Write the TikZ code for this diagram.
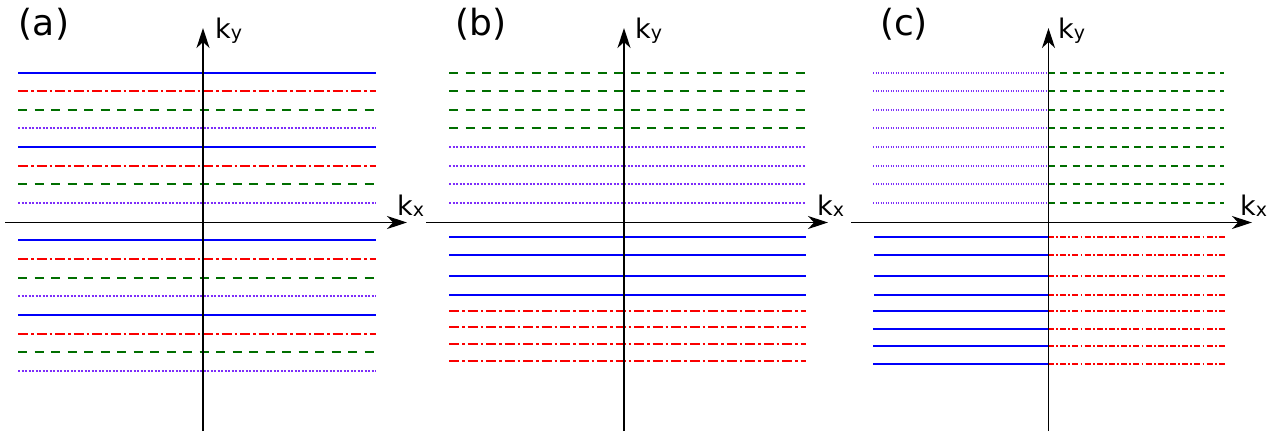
\documentclass[tikz,border=0pt]{standalone}
\usepackage{fontspec}
\setmainfont{DejaVu Sans}
\usetikzlibrary{arrows.meta}
\definecolor{bandblue}{RGB}{0,0,250}
\definecolor{bandred}{RGB}{250,0,0}
\definecolor{bandgreen}{RGB}{0,110,0}
\definecolor{bandpurple}{RGB}{125,45,250}
\tikzset{
  axisline/.style={line width=1.7pt, black, -{Stealth[length=20pt, width=13pt, inset=6pt]}},
  panellabel/.style={font=\fontsize{36}{40}\selectfont, inner sep=0pt},
  axislabel/.style={font=\fontsize{27}{30}\selectfont, anchor=base west, inner sep=0pt},
  bsolid/.style={line width=2.7pt, bandblue},
  rdashdot/.style={line width=2.7pt, bandred, dash pattern=on 10pt off 3pt on 2.5pt off 3pt},
  gdashed/.style={line width=2.7pt, bandgreen, dash pattern=on 9pt off 7.5pt},
  pdotted/.style={line width=2.4pt, bandpurple, dash pattern=on 2pt off 1.5pt},
  bsolidthin/.style={line width=1.9pt, bandblue},
  rdashdotthin/.style={line width=1.9pt, bandred, dash pattern=on 6pt off 2.2pt on 1.8pt off 2.2pt},
  gdashedthin/.style={line width=1.9pt, bandgreen, dash pattern=on 7pt off 5.3pt},
  pdottedthin/.style={line width=1.8pt, bandpurple, dash pattern=on 1.4pt off 1.1pt},
}
\newcommand{\kx}{k\raisebox{-1pt}{\fontsize{19}{20}\selectfont x}}
\newcommand{\ky}{k\raisebox{-1pt}{\fontsize{19}{20}\selectfont y}}

\begin{document}
\begin{tikzpicture}[x=1pt, y=-1pt]
  \useasboundingbox (0,0) rectangle (1276,432);
  % panel (a)
  \node[panellabel] (labA) at (44,24) {(a)};
  \draw[bsolid]   (18,73)  -- (376,73);
  \draw[rdashdot] (18,91)  -- (376,91);
  \draw[gdashed]  (18,110) -- (376,110);
  \draw[pdotted]  (18,128) -- (376,128);
  \draw[bsolid]   (18,147) -- (376,147);
  \draw[rdashdot] (18,166) -- (376,166);
  \draw[gdashed]  (18,184) -- (376,184);
  \draw[pdotted]  (18,203) -- (376,203);
  \draw[bsolid]   (18,240) -- (376,240);
  \draw[rdashdot] (18,259) -- (376,259);
  \draw[gdashed]  (18,278) -- (376,278);
  \draw[pdotted]  (18,296) -- (376,296);
  \draw[bsolid]   (18,315) -- (376,315);
  \draw[rdashdot] (18,334) -- (376,334);
  \draw[gdashed]  (18,352) -- (376,352);
  \draw[pdotted]  (18,371) -- (376,371);
  \coordinate (axA0) at (5,222.5);   \coordinate (axA1) at (407,222.5);
  \coordinate (ayA0) at (203,431);   \coordinate (ayA1) at (203,28);
  \draw[axisline] (axA0) -- (axA1);
  \draw[axisline] (ayA0) -- (ayA1);
  \node[axislabel] (kxA) at (397,215) {\kx};
  \node[axislabel] (kyA) at (215,38)  {\ky};
  % panel (b)
  \node[panellabel] (labB) at (481,24) {(b)};
  \draw[gdashed]  (449,73)  -- (806,73);
  \draw[gdashed]  (449,91)  -- (806,91);
  \draw[gdashed]  (449,110) -- (806,110);
  \draw[gdashed]  (449,128) -- (806,128);
  \draw[pdotted]  (449,147) -- (806,147);
  \draw[pdotted]  (449,166) -- (806,166);
  \draw[pdotted]  (449,184) -- (806,184);
  \draw[pdotted]  (449,203) -- (806,203);
  \draw[bsolid]   (449,237) -- (806,237);
  \draw[bsolid]   (449,255) -- (806,255);
  \draw[bsolid]   (449,276) -- (806,276);
  \draw[bsolid]   (449,295) -- (806,295);
  \draw[rdashdot] (449,311) -- (806,311);
  \draw[rdashdot] (449,327) -- (806,327);
  \draw[rdashdot] (449,344) -- (806,344);
  \draw[rdashdot] (449,361) -- (806,361);
  \coordinate (axB0) at (426,222.5); \coordinate (axB1) at (828,222.5);
  \coordinate (ayB0) at (624,431);   \coordinate (ayB1) at (624,28);
  \draw[axisline] (axB0) -- (axB1);
  \draw[axisline] (ayB0) -- (ayB1);
  \node[axislabel] (kxB) at (817,215) {\kx};
  \node[axislabel] (kyB) at (635,38)  {\ky};
  % panel (c)
  \node[panellabel] (labC) at (904,24) {(c)};
  \draw[pdottedthin] (873,73)  -- (1048,73);  \draw[gdashedthin] (1048,73)  -- (1224,73);
  \draw[pdottedthin] (873,91)  -- (1048,91);  \draw[gdashedthin] (1048,91)  -- (1224,91);
  \draw[pdottedthin] (873,110) -- (1048,110); \draw[gdashedthin] (1048,110) -- (1224,110);
  \draw[pdottedthin] (873,128) -- (1048,128); \draw[gdashedthin] (1048,128) -- (1224,128);
  \draw[pdottedthin] (873,147) -- (1048,147); \draw[gdashedthin] (1048,147) -- (1224,147);
  \draw[pdottedthin] (873,166) -- (1048,166); \draw[gdashedthin] (1048,166) -- (1224,166);
  \draw[pdottedthin] (873,184) -- (1048,184); \draw[gdashedthin] (1048,184) -- (1224,184);
  \draw[pdottedthin] (873,203) -- (1048,203); \draw[gdashedthin] (1048,203) -- (1224,203);
  \draw[bsolidthin] (874,237) -- (1048,237); \draw[rdashdotthin] (1048,237) -- (1225,237);
  \draw[bsolidthin] (874,255) -- (1048,255); \draw[rdashdotthin] (1048,255) -- (1225,255);
  \draw[bsolidthin] (874,276) -- (1048,276); \draw[rdashdotthin] (1048,276) -- (1225,276);
  \draw[bsolidthin] (874,295) -- (1048,295); \draw[rdashdotthin] (1048,295) -- (1225,295);
  \draw[bsolidthin] (873,311) -- (1048,311); \draw[rdashdotthin] (1048,311) -- (1225,311);
  \draw[bsolidthin] (873,329) -- (1048,329); \draw[rdashdotthin] (1048,329) -- (1225,329);
  \draw[bsolidthin] (873,346) -- (1048,346); \draw[rdashdotthin] (1048,346) -- (1225,346);
  \draw[bsolidthin] (873,364) -- (1048,364); \draw[rdashdotthin] (1048,364) -- (1225,364);
  \coordinate (axC0) at (851,222.5);  \coordinate (axC1) at (1252,222.5);
  \coordinate (ayC0) at (1048.5,431); \coordinate (ayC1) at (1048.5,28);
  \draw[axisline] (axC0) -- (axC1);
  \draw[axisline] (ayC0) -- (ayC1);
  \node[axislabel] (kxC) at (1240,215) {\kx};
  \node[axislabel] (kyC) at (1058,38)  {\ky};
\end{tikzpicture}
\end{document}
